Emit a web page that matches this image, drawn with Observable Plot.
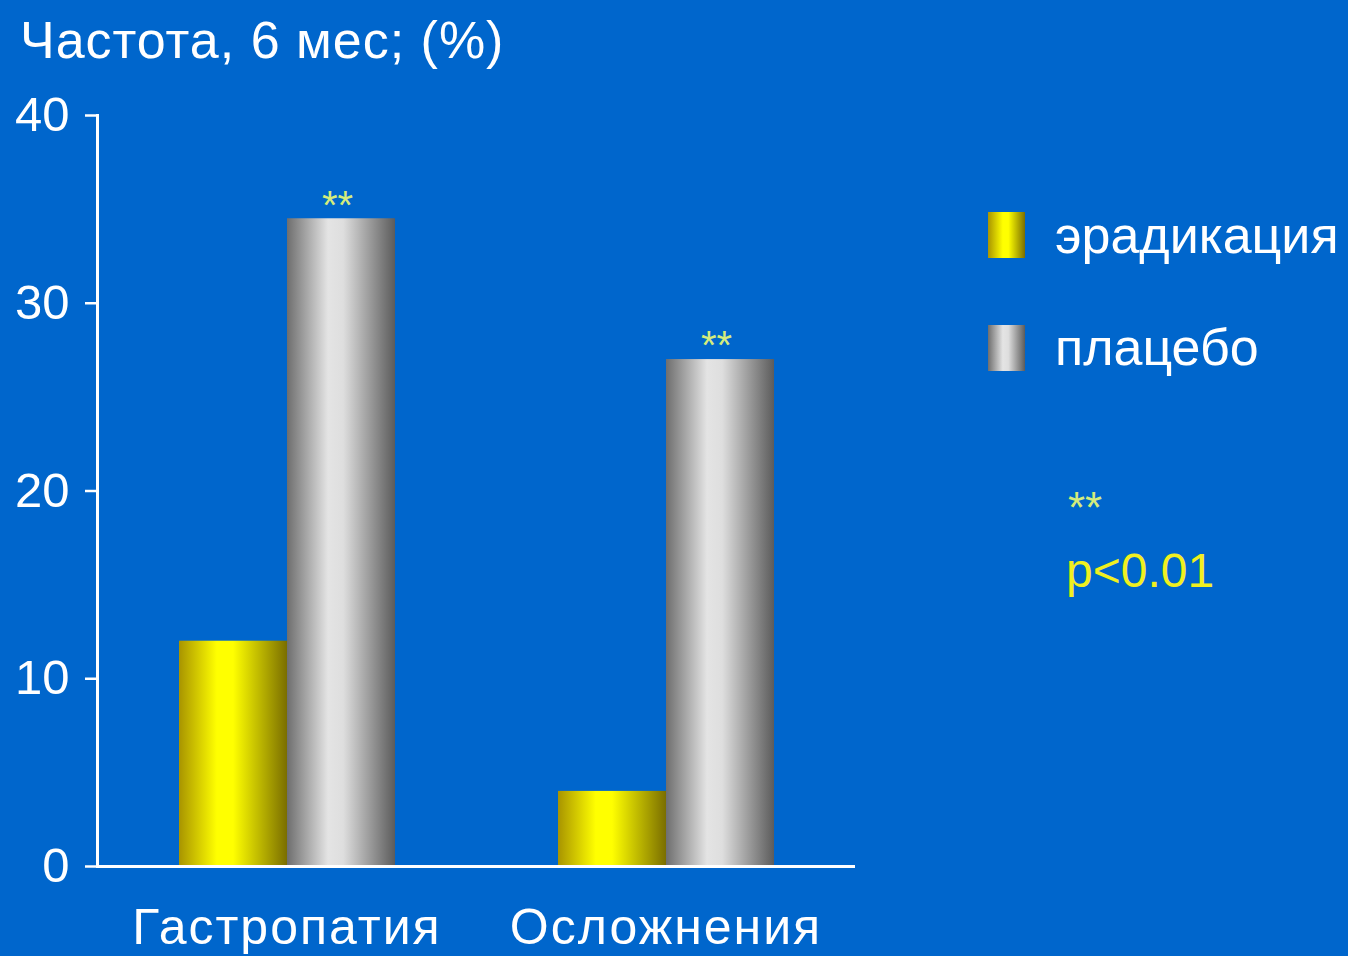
<!DOCTYPE html>
<html>
<head>
<meta charset="utf-8">
<script src="https://cdn.jsdelivr.net/npm/d3@7"></script>
<script src="https://cdn.jsdelivr.net/npm/@observablehq/plot@0.6"></script>
<style>
  html, body { margin: 0; padding: 0; background: #0066cc; }
  #wrap { position: relative; width: 1348px; height: 956px; overflow: hidden; background: #0066cc;
          font-family: "Liberation Sans", Arial, sans-serif; color: white; }
  #title { height: 80px; line-height: 80px; font-size: 52px; padding-left: 20px; white-space: nowrap; letter-spacing: 1px; }
  .lg { position: absolute; line-height: 1; white-space: nowrap; }
  .sw { position: absolute; width: 37px; height: 46px; }
  svg [aria-label="fx-axis tick label"] text { letter-spacing: 2px; }
</style>
</head>
<body>
<div id="wrap">
  <div id="title">Частота, 6 мес; (%)</div>
  <div id="chart"></div>
  <div id="legend"></div>
</div>
<script>
// ---- data ----
const categories = ["Гастропатия", "Осложнения"];
const series = ["эрадикация", "плацебо"];
const eradication = [12, 4];
const placebo = [34.5, 27];
const significance = ["**", "**"]; // marks above the placebo bars
const yTicks = [0, 10, 20, 30, 40];
const pNote = ["**", "p<0.01"];

const data = categories.flatMap((c, i) => [
  {category: c, series: series[0], value: eradication[i], sig: ""},
  {category: c, series: series[1], value: placebo[i], sig: significance[i]}
]);

const plot = Plot.plot({
  width: 1348,
  height: 876,
  marginTop: 35,
  marginBottom: 90,
  marginLeft: 96,
  marginRight: 493,
  style: {background: "transparent", color: "white", fontFamily: "'Liberation Sans', Arial, sans-serif", overflow: "visible"},
  fx: {domain: categories, padding: 0, label: null},
  x: {domain: series, paddingInner: 0, paddingOuter: 0.74, axis: null},
  y: {domain: [0, 40], axis: null},
  color: {domain: series, range: ["url(#gradYellow)", "url(#gradGray)"]},
  marks: [
    Plot.barY(data, {fx: "category", x: "series", y: "value", fill: "series", inset: 0}),
    Plot.text(data.filter(d => d.sig), {fx: "category", x: "series", y: "value", text: "sig", dy: -13, dx: -4, fill: "#d4ec7c", fontSize: 40}),
    Plot.ruleY([0], {stroke: "white", strokeWidth: 3}),
    Plot.frame({anchor: "left", facetAnchor: "left", stroke: "white", strokeWidth: 3}),
    Plot.axisY({ticks: yTicks, tickSize: 12, tickPadding: 16, fontSize: 49, stroke: "white", strokeWidth: 2.5, label: null}),
    Plot.axisFx({anchor: "bottom", tickSize: 0, tickPadding: 42, fontSize: 50, label: null})
  ]
});

const defs = d3.select(plot).insert("defs", ":first-child");
function grad(id, stops) {
  const g = defs.append("linearGradient").attr("id", id).attr("x1", 0).attr("x2", 1).attr("y1", 0).attr("y2", 0);
  stops.forEach(([o, c]) => g.append("stop").attr("offset", o).attr("stop-color", c));
}
grad("gradYellow", [[0, "#a89400"], [0.35, "#ffff00"], [0.5, "#ffff00"], [1, "#7a6e00"]]);
grad("gradGray", [[0, "#6e6e6e"], [0.38, "#e4e4e4"], [0.52, "#dedede"], [1, "#5c5c5c"]]);

document.getElementById("chart").appendChild(plot);

// ---- legend (HTML) ----
const legend = document.getElementById("legend");
const swatchBg = [
  "linear-gradient(to right, #a89400, #ffff00 40%, #ffff00 55%, #7a6e00)",
  "linear-gradient(to right, #6e6e6e, #e4e4e4 40%, #dedede 55%, #5c5c5c)"
];
const swTop = [212, 325];
const txTop = [209, 321];
series.forEach((s, i) => {
  const sw = document.createElement("div");
  sw.className = "sw";
  sw.style.left = "988px"; sw.style.top = swTop[i] + "px"; sw.style.background = swatchBg[i];
  legend.appendChild(sw);
  const t = document.createElement("div");
  t.className = "lg";
  t.style.left = "1055px"; t.style.top = txTop[i] + "px"; t.style.fontSize = "52px";
  t.textContent = s;
  legend.appendChild(t);
});
const stars = document.createElement("div");
stars.className = "lg";
stars.style.cssText = "left:1068px;top:486px;font-size:44px;color:#d4ec7c;";
stars.textContent = pNote[0];
legend.appendChild(stars);
const p = document.createElement("div");
p.className = "lg";
p.style.cssText = "left:1066px;top:547px;font-size:48px;color:#f0f020;";
p.textContent = pNote[1];
legend.appendChild(p);
</script>
</body>
</html>
